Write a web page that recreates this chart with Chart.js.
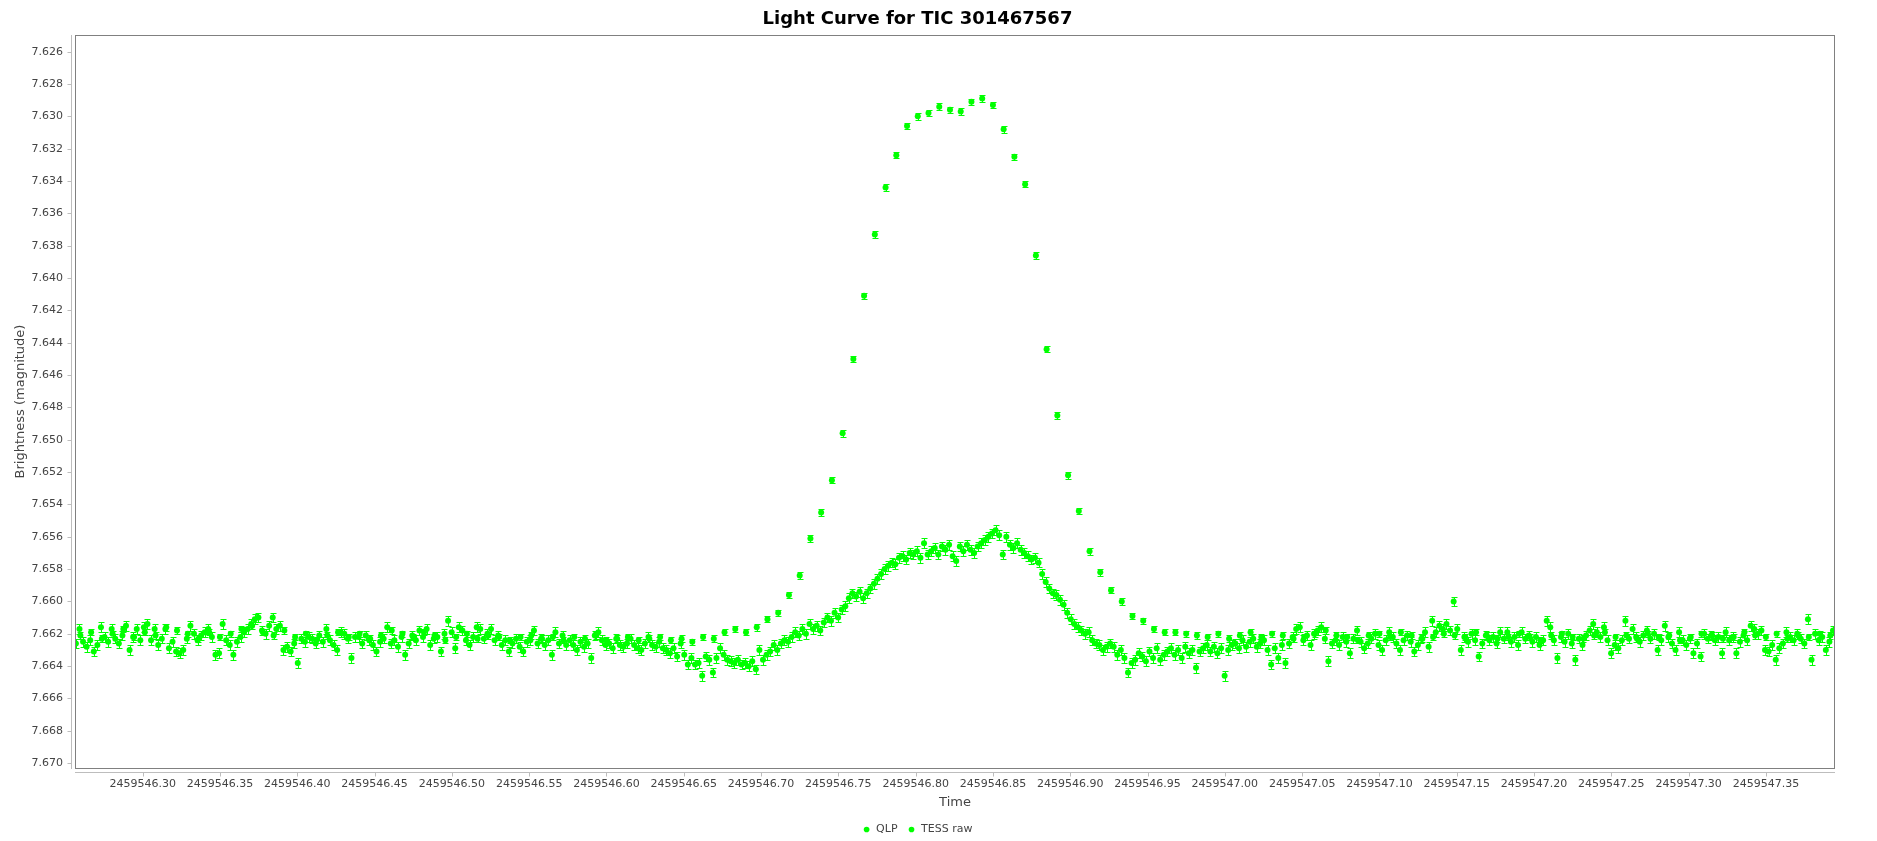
<!DOCTYPE html>
<html>
<head>
<meta charset="utf-8">
<title>Light Curve for TIC 301467567</title>
<script src="https://cdn.jsdelivr.net/npm/chart.js@4.4.1/dist/chart.umd.min.js"></script>
<style>
  html, body { margin: 0; padding: 0; background: #ffffff; }
  #wrap { width: 1877px; height: 841px; position: relative; }
</style>
</head>
<body>
<div id="wrap"><canvas id="lightCurve"></canvas></div>
<script>
const chartTitle = 'Light Curve for TIC 301467567';
const xTitle = 'Time';
const yTitle = 'Brightness (magnitude)';
const seriesNames = ['QLP', 'TESS raw'];

// QLP, 10 min cadence
const qlpStart = 2459546.2597;
const qlpCadence = 600 / 86400;
const qlpErr = 0.0002;
const qlpMag = [
  7.6621, 7.6619, 7.6623, 7.6620, 7.6617, 7.6622, 7.6619, 7.6621, 7.6616, 7.6618,
  7.6620, 7.6623, 7.6619, 7.6622, 7.6620, 7.6617, 7.6615, 7.6619, 7.6621, 7.6618,
  7.6622, 7.6620, 7.6624, 7.6621, 7.6619, 7.6622, 7.6620, 7.6623, 7.6621, 7.6618,
  7.6620, 7.6622, 7.6619, 7.6621, 7.6624, 7.6622, 7.6620, 7.6623, 7.6621, 7.6622,
  7.6624, 7.6622, 7.6621, 7.6623, 7.6622, 7.6624, 7.6622, 7.6623, 7.6621, 7.6624,
  7.6623, 7.6622, 7.6624, 7.6623, 7.6622, 7.6624, 7.6623, 7.6625, 7.6622, 7.6623,
  7.6619, 7.6617, 7.6619, 7.6616, 7.6611,
  7.6607, 7.6596, 7.6584, 7.6561, 7.6545, 7.6525, 7.6496, 7.6450, 7.6411, 7.6373,
  7.6344, 7.6324, 7.6306, 7.6300, 7.6298, 7.6294, 7.6296, 7.6297, 7.6291, 7.6289,
  7.6293, 7.6308, 7.6325, 7.6342, 7.6386, 7.6444, 7.6485, 7.6522, 7.6544, 7.6569,
  7.6582, 7.6593,
  7.6600, 7.6609, 7.6612, 7.6617, 7.6619, 7.6619, 7.6620,
  7.6621, 7.6622, 7.6620, 7.6623, 7.6621, 7.6619, 7.6622, 7.6620, 7.6621, 7.6623,
  7.6622, 7.6620, 7.6618, 7.6621, 7.6622, 7.6624, 7.6621, 7.6620, 7.6622, 7.6619,
  7.6621, 7.6623, 7.6622, 7.6620, 7.6621, 7.6622, 7.6619, 7.6621, 7.6623, 7.6622,
  7.6620, 7.6622, 7.6624, 7.6621, 7.6620, 7.6622, 7.6623, 7.6621, 7.6619, 7.6622,
  7.6621, 7.6623, 7.6620, 7.6622, 7.6621, 7.6624, 7.6622, 7.6620, 7.6621, 7.6623,
  7.6622, 7.6619, 7.6621, 7.6622, 7.6620, 7.6623, 7.6621, 7.6622, 7.6620, 7.6621
];

// TESS raw, 200 s cadence
const tessStart = 2459546.2568;
const tessCadence = 200 / 86400;
const tessErr = 0.0003;
const tessMag = [
  7.6626, 7.6617, 7.6625, 7.6628, 7.6624, 7.6631, 7.6627, 7.6616, 7.6622, 7.6625,
  7.6617, 7.6623, 7.6626, 7.6621, 7.6615, 7.6630, 7.6622, 7.6617, 7.6624, 7.6616,
  7.6614, 7.6624, 7.6617, 7.6627, 7.6623, 7.6617, 7.6629, 7.6625, 7.6631, 7.6632,
  7.6630, 7.6623, 7.6615, 7.6620, 7.6624, 7.6621, 7.6619, 7.6617, 7.6622, 7.6633,
  7.6632, 7.6614, 7.6624, 7.6627, 7.6633, 7.6625, 7.6622, 7.6619, 7.6617, 7.6614,
  7.6611, 7.6610, 7.6618, 7.6620, 7.6615, 7.6610, 7.6617, 7.6615, 7.6630, 7.6628,
  7.6631, 7.6626, 7.6638, 7.6623, 7.6625, 7.6622, 7.6623, 7.6626, 7.6621, 7.6625,
  7.6617, 7.6624, 7.6627, 7.6630, 7.6619, 7.6620, 7.6623, 7.6635, 7.6622, 7.6622,
  7.6626, 7.6621, 7.6624, 7.6627, 7.6631, 7.6625, 7.6623, 7.6616, 7.6626, 7.6624,
  7.6628, 7.6622, 7.6633, 7.6626, 7.6621, 7.6624, 7.6618, 7.6622, 7.6617, 7.6627,
  7.6623, 7.6622, 7.6631, 7.6620, 7.6612, 7.6619, 7.6629, 7.6616, 7.6618, 7.6624,
  7.6627, 7.6622, 7.6616, 7.6617, 7.6623, 7.6620, 7.6617, 7.6624, 7.6621, 7.6627,
  7.6624, 7.6631, 7.6626, 7.6623, 7.6628, 7.6631, 7.6625, 7.6624, 7.6618, 7.6626,
  7.6623, 7.6627, 7.6624, 7.6633, 7.6619, 7.6626, 7.6621, 7.6627, 7.6624, 7.6627,
  7.6630, 7.6625, 7.6628, 7.6626, 7.6635, 7.6621, 7.6619, 7.6624, 7.6627, 7.6626,
  7.6629, 7.6623, 7.6627, 7.6628, 7.6626, 7.6623, 7.6627, 7.6629, 7.6630, 7.6626,
  7.6622, 7.6627, 7.6628, 7.6625, 7.6629, 7.6630, 7.6632, 7.6629, 7.6634, 7.6626,
  7.6633, 7.6639, 7.6635, 7.6639, 7.6638, 7.6646, 7.6634, 7.6636, 7.6644, 7.6635,
  7.6629, 7.6633, 7.6636, 7.6637, 7.6638, 7.6636, 7.6639, 7.6638, 7.6640, 7.6637,
  7.6642, 7.6630, 7.6636, 7.6633, 7.6631, 7.6627, 7.6630, 7.6626, 7.6624, 7.6625,
  7.6622, 7.6619, 7.6621, 7.6617, 7.6620, 7.6614, 7.6617, 7.6615, 7.6618, 7.6613,
  7.6610, 7.6612, 7.6607, 7.6610, 7.6605, 7.6603, 7.6598, 7.6595, 7.6597, 7.6594,
  7.6598, 7.6595, 7.6592, 7.6589, 7.6586, 7.6583, 7.6580, 7.6578, 7.6576, 7.6577,
  7.6573, 7.6572, 7.6574, 7.6570, 7.6571, 7.6569, 7.6573, 7.6564, 7.6571, 7.6569,
  7.6567, 7.6571, 7.6566, 7.6568, 7.6565, 7.6572, 7.6575, 7.6566, 7.6569, 7.6565,
  7.6568, 7.6570, 7.6566, 7.6564, 7.6562, 7.6560, 7.6558, 7.6556, 7.6559, 7.6571,
  7.6560, 7.6565, 7.6567, 7.6564, 7.6568, 7.6570, 7.6572, 7.6574, 7.6573, 7.6576,
  7.6583, 7.6588, 7.6592, 7.6595, 7.6596, 7.6599, 7.6602, 7.6607, 7.6611, 7.6614,
  7.6616, 7.6618, 7.6620, 7.6619, 7.6624, 7.6626, 7.6627, 7.6630, 7.6628, 7.6626,
  7.6628, 7.6633, 7.6630, 7.6635, 7.6644, 7.6638, 7.6636, 7.6632, 7.6634, 7.6637,
  7.6631, 7.6635, 7.6629, 7.6636, 7.6633, 7.6631, 7.6629, 7.6633, 7.6630, 7.6635,
  7.6628, 7.6632, 7.6630, 7.6641, 7.6631, 7.6629, 7.6627, 7.6631, 7.6628, 7.6632,
  7.6629, 7.6646, 7.6630, 7.6627, 7.6626, 7.6629, 7.6624, 7.6628, 7.6625, 7.6623,
  7.6628, 7.6626, 7.6624, 7.6630, 7.6639, 7.6629, 7.6635, 7.6627, 7.6638, 7.6626,
  7.6622, 7.6617, 7.6616, 7.6624, 7.6621, 7.6627, 7.6620, 7.6618, 7.6616, 7.6623,
  7.6637, 7.6626, 7.6624, 7.6627, 7.6622, 7.6625, 7.6632, 7.6623, 7.6618, 7.6625,
  7.6629, 7.6626, 7.6623, 7.6620, 7.6627, 7.6630, 7.6624, 7.6619, 7.6622, 7.6626,
  7.6630, 7.6624, 7.6621, 7.6625, 7.6631, 7.6627, 7.6623, 7.6619, 7.6628, 7.6612,
  7.6619, 7.6615, 7.6617, 7.6614, 7.6618, 7.6600, 7.6617, 7.6630, 7.6622, 7.6625,
  7.6620, 7.6624, 7.6634, 7.6626, 7.6621, 7.6624, 7.6622, 7.6626, 7.6619, 7.6623,
  7.6619, 7.6625, 7.6622, 7.6627, 7.6619, 7.6623, 7.6621, 7.6625, 7.6622, 7.6627,
  7.6624, 7.6612, 7.6616, 7.6624, 7.6635, 7.6622, 7.6625, 7.6620, 7.6626, 7.6636,
  7.6623, 7.6627, 7.6621, 7.6618, 7.6614, 7.6619, 7.6622, 7.6616, 7.6624, 7.6632,
  7.6627, 7.6629, 7.6624, 7.6612, 7.6623, 7.6617, 7.6622, 7.6625, 7.6621, 7.6618,
  7.6623, 7.6620, 7.6630, 7.6624, 7.6615, 7.6622, 7.6626, 7.6630, 7.6619, 7.6624,
  7.6627, 7.6623, 7.6632, 7.6626, 7.6634, 7.6620, 7.6623, 7.6621, 7.6624, 7.6622,
  7.6632, 7.6619, 7.6624, 7.6622, 7.6632, 7.6625, 7.6621, 7.6624, 7.6615, 7.6617,
  7.6620, 7.6618, 7.6630, 7.6631, 7.6627, 7.6636, 7.6629, 7.6626, 7.6619, 7.6622,
  7.6624, 7.6620, 7.6623, 7.6626, 7.6611, 7.6636, 7.6620, 7.6624, 7.6622, 7.6630,
  7.6625, 7.6618
];

// axis ranges and tick steps
const xMin = 2459546.25622, xMax = 2459547.39468, xStep = 0.05;
const yMin = 7.62497, yMax = 7.67030, yStep = 0.002;

const green = '#00ff00';

function toPoints(start, cadence, mags) {
  return mags.map((m, i) => ({ x: start + i * cadence, y: m }));
}

function stepTicks(scale, step) {
  const ticks = [];
  const k0 = Math.ceil(scale.min / step - 1e-7);
  const k1 = Math.floor(scale.max / step + 1e-7);
  for (let k = k0; k <= k1; k++) ticks.push({ value: k * step });
  scale.ticks = ticks;
}

// vertical error bars with small caps
const errorBars = {
  id: 'errorBars',
  beforeDatasetsDraw(chart) {
    const { ctx, chartArea, scales } = chart;
    ctx.save();
    ctx.beginPath();
    ctx.rect(chartArea.left, chartArea.top, chartArea.width, chartArea.height);
    ctx.clip();
    ctx.strokeStyle = green;
    ctx.lineWidth = 1;
    chart.data.datasets.forEach((ds, di) => {
      const meta = chart.getDatasetMeta(di);
      ctx.beginPath();
      meta.data.forEach((pt, i) => {
        const v = ds.data[i].y;
        const y1 = Math.round(scales.y.getPixelForValue(v - ds.err)) + 0.5;
        const y2 = Math.round(scales.y.getPixelForValue(v + ds.err)) + 0.5;
        const x = Math.round(pt.x) + 0.5;
        ctx.moveTo(x, y1); ctx.lineTo(x, y2);
        ctx.moveTo(x - 3, y1); ctx.lineTo(x + 3, y1);
        ctx.moveTo(x - 3, y2); ctx.lineTo(x + 3, y2);
      });
      ctx.stroke();
    });
    ctx.restore();
  }
};

// plot outline plus offset axis lines and tick marks
const frame = {
  id: 'frame',
  afterDraw(chart) {
    const { ctx, chartArea: a, scales } = chart;
    ctx.save();
    ctx.lineWidth = 1;
    ctx.strokeStyle = '#808080';
    ctx.strokeRect(a.left + 0.5, a.top + 0.5, a.width - 1, a.height);

    ctx.strokeStyle = '#bdbdbd';
    ctx.beginPath();
    const ax = a.left - 4 + 0.5;
    ctx.moveTo(ax, a.top); ctx.lineTo(ax, a.bottom + 1);
    scales.y.ticks.forEach(t => {
      const py = Math.round(scales.y.getPixelForValue(t.value)) + 0.5;
      ctx.moveTo(ax - 4, py); ctx.lineTo(ax, py);
    });
    const ay = a.bottom + 4 + 0.5;
    ctx.moveTo(a.left, ay); ctx.lineTo(a.right, ay);
    scales.x.ticks.forEach(t => {
      const px = Math.round(scales.x.getPixelForValue(t.value)) + 0.5;
      ctx.moveTo(px, ay); ctx.lineTo(px, ay + 4);
    });
    ctx.stroke();
    ctx.restore();
  }
};

Chart.defaults.font.family = "'DejaVu Sans', sans-serif";
Chart.defaults.color = '#444444';

new Chart(document.getElementById('lightCurve'), {
  type: 'scatter',
  data: {
    datasets: [
      {
        label: seriesNames[0],
        data: toPoints(qlpStart, qlpCadence, qlpMag),
        err: qlpErr,
        backgroundColor: green,
        borderColor: green,
        borderWidth: 0,
        pointRadius: 3,
        pointHoverRadius: 3,
        clip: 0
      },
      {
        label: seriesNames[1],
        data: toPoints(tessStart, tessCadence, tessMag),
        err: tessErr,
        backgroundColor: green,
        borderColor: green,
        borderWidth: 0,
        pointRadius: 3,
        pointHoverRadius: 3,
        clip: 0
      }
    ]
  },
  options: {
    responsive: true,
    maintainAspectRatio: false,
    devicePixelRatio: 1,
    animation: false,
    events: [],
    layout: { padding: { left: 0, right: 42, top: 0, bottom: -4 } },
    plugins: {
      title: {
        display: true,
        text: chartTitle,
        color: '#000000',
        font: { size: 18, weight: 'bold' },
        padding: { top: 9, bottom: 4.4 }
      },
      legend: {
        position: 'bottom',
        labels: {
          usePointStyle: true,
          pointStyle: 'circle',
          boxWidth: 8,
          boxHeight: 4,
          padding: 10,
          color: '#444444',
          font: { size: 11 }
        }
      },
      tooltip: { enabled: false }
    },
    scales: {
      x: {
        type: 'linear',
        min: xMin,
        max: xMax,
        grid: { display: false, drawTicks: false },
        border: { display: false },
        afterBuildTicks: s => stepTicks(s, xStep),
        afterFit: s => { s.height = 46; },
        ticks: {
          padding: 10,
          maxRotation: 0,
          autoSkip: false,
          font: { size: 11 },
          color: '#444444',
          callback: v => v.toFixed(2)
        },
        title: {
          display: true,
          text: xTitle,
          color: '#444444',
          font: { size: 13 },
          padding: { top: 0, bottom: 4 }
        }
      },
      y: {
        type: 'linear',
        reverse: true,
        min: yMin,
        max: yMax,
        grid: { display: false, drawTicks: false },
        border: { display: false },
        afterBuildTicks: s => stepTicks(s, yStep),
        afterFit: s => { s.width = 75; },
        ticks: {
          padding: 12,
          autoSkip: false,
          font: { size: 11 },
          color: '#444444',
          callback: v => v.toFixed(3)
        },
        title: {
          display: true,
          text: yTitle,
          color: '#444444',
          font: { size: 13 },
          padding: { top: 13, bottom: 0 }
        }
      }
    }
  },
  plugins: [errorBars, frame]
});
</script>
</body>
</html>
